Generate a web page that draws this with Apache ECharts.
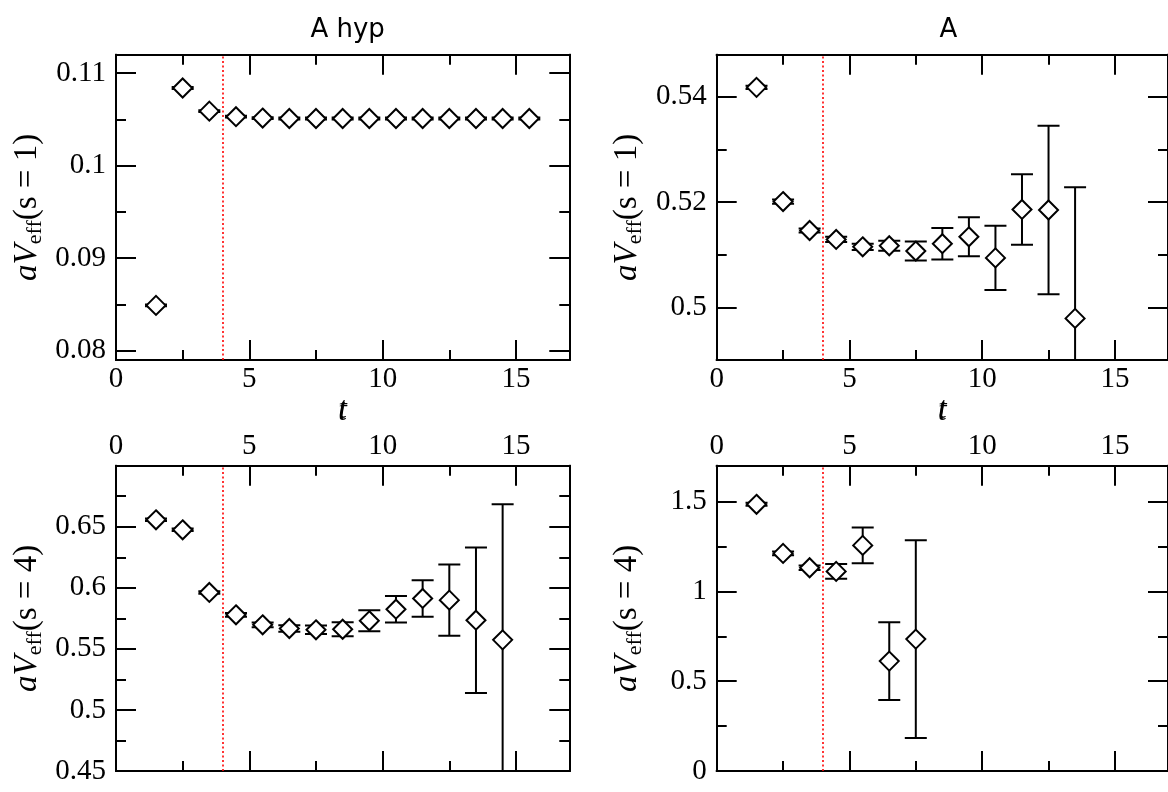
<!DOCTYPE html>
<html>
<head>
<meta charset="utf-8">
<script src="https://cdn.jsdelivr.net/npm/echarts@6/dist/echarts.min.js"></script>
<style>
html,body{margin:0;padding:0;background:#fff;}
#chart{width:1168px;height:792px;}
</style>
</head>
<body>
<div id="chart"></div>
<script>
// ---------------- data ----------------
const panelTitles = ['A hyp', 'A'];
const fitStart = 4;

const tS1Hyp = [1.5, 2.5, 3.5, 4.5, 5.5, 6.5, 7.5, 8.5, 9.5, 10.5, 11.5, 12.5, 13.5, 14.5, 15.5];
const vS1Hyp = [0.0849, 0.1084, 0.1059, 0.1053, 0.10515, 0.1051, 0.1051, 0.1051, 0.1051, 0.1051, 0.1051, 0.1051, 0.1051, 0.1051, 0.1051];
const eS1Hyp = [0.0001, 0.0001, 0.0001, 0.0001, 0.0001, 0.0001, 0.0001, 0.0001, 0.0001, 0.0001, 0.0001, 0.0001, 0.0001, 0.0001, 0.0001];

const tS1A = [1.5, 2.5, 3.5, 4.5, 5.5, 6.5, 7.5, 8.5, 9.5, 10.5, 11.5, 12.5, 13.5];
const vS1A = [0.5418, 0.5201, 0.5146, 0.5129, 0.5115, 0.5117, 0.5107, 0.5121, 0.5134, 0.5094, 0.5186, 0.5185, 0.4979];
const eS1A = [0.0003, 0.0004, 0.0004, 0.0005, 0.0006, 0.00095, 0.0018, 0.0030, 0.0037, 0.0061, 0.0067, 0.0160, 0.0249];

const tS4Hyp = [1.5, 2.5, 3.5, 4.5, 5.5, 6.5, 7.5, 8.5, 9.5, 10.5, 11.5, 12.5, 13.5, 14.5];
const vS4Hyp = [0.6557, 0.6475, 0.5962, 0.5779, 0.5697, 0.5667, 0.5656, 0.5661, 0.5730, 0.5825, 0.5913, 0.5899, 0.5735, 0.5574];
const eS4Hyp = [0.001, 0.001, 0.001, 0.0015, 0.002, 0.0027, 0.0035, 0.0058, 0.0086, 0.0108, 0.015, 0.0292, 0.0596, 0.111];

const tS4A = [1.5, 2.5, 3.5, 4.5, 5.5, 6.5, 7.5];
const vS4A = [1.485, 1.2116, 1.1318, 1.1114, 1.2562, 0.612, 0.7345];
const eS4A = [0.008, 0.010, 0.012, 0.041, 0.100, 0.216, 0.551];

// axis ranges & ticks
const xRange = [0, 17];
const xMajor = [0, 5, 10, 15];
const xMinor = [2.5, 7.5, 12.5];

const yRangeS1Hyp = [0.079, 0.112];
const yMajorS1Hyp = [0.08, 0.09, 0.1, 0.11];
const yMinorS1Hyp = [0.085, 0.095, 0.105];

const yRangeS1A = [0.49, 0.548];
const yMajorS1A = [0.5, 0.52, 0.54];
const yMinorS1A = [0.49, 0.51, 0.53];

const yRangeS4Hyp = [0.45, 0.70];
const yMajorS4Hyp = [0.45, 0.5, 0.55, 0.6, 0.65];
const yMinorS4Hyp = [0.475, 0.525, 0.575, 0.625, 0.675];

const yRangeS4A = [0, 1.7];
const yMajorS4A = [0, 0.5, 1, 1.5];
const yMinorS4A = [0.25, 0.75, 1.25];

// ---------------- layout ----------------
const grids = [
  {left: 116, top: 54.7, width: 453.3, height: 305.3},
  {left: 716.7, top: 54.7, width: 453.3, height: 305.3},
  {left: 116, top: 465.7, width: 453.3, height: 305.3},
  {left: 716.7, top: 465.7, width: 453.3, height: 305.3}
];

const BLACK = '#000';
const serif = 'Liberation Serif';
const lineStyle = {color: BLACK, width: 2};

function xAxes(gi, labelPos) {
  const other = labelPos === 'bottom' ? 'top' : 'bottom';
  const base = {gridIndex: gi, type: 'value', min: xRange[0], max: xRange[1],
    splitLine: {show: false}, axisLine: {show: true, onZero: false, lineStyle: lineStyle}};
  return [
    Object.assign({}, base, {position: labelPos,
      axisTick: {show: true, inside: true, length: 20, customValues: xMajor, lineStyle: lineStyle},
      axisLabel: {show: true, customValues: xMajor, margin: 5, color: BLACK, fontFamily: serif, fontSize: 29},
      name: 't', nameLocation: 'middle', nameGap: labelPos === 'bottom' ? 36 : 40,
      nameTextStyle: {fontFamily: serif, fontStyle: 'italic', fontSize: 31, color: BLACK}}),
    Object.assign({}, base, {position: other,
      axisTick: {show: true, inside: true, length: 20, customValues: xMajor, lineStyle: lineStyle},
      axisLabel: {show: false}}),
    Object.assign({}, base, {position: labelPos,
      axisTick: {show: true, inside: true, length: 10, customValues: xMinor, lineStyle: lineStyle},
      axisLabel: {show: false}}),
    Object.assign({}, base, {position: other,
      axisTick: {show: true, inside: true, length: 10, customValues: xMinor, lineStyle: lineStyle},
      axisLabel: {show: false}})
  ];
}

function yAxes(gi, range, majors, minors, sValue) {
  const base = {gridIndex: gi, type: 'value', min: range[0], max: range[1],
    splitLine: {show: false}, axisLine: {show: true, onZero: false, lineStyle: lineStyle}};
  return [
    Object.assign({}, base, {position: 'left',
      axisTick: {show: true, inside: true, length: 20, customValues: majors, lineStyle: lineStyle},
      axisLabel: {show: true, customValues: majors, margin: 10, color: BLACK, fontFamily: serif, fontSize: 29},
      name: '{i|aV}{sub|eff}{n|(s = ' + sValue + ')}',
      nameLocation: 'middle', nameGap: 70,
      nameTextStyle: {
        color: BLACK,
        rich: {
          i: {fontFamily: serif, fontStyle: 'italic', fontSize: 33, color: BLACK, lineHeight: 38, verticalAlign: 'middle'},
          sub: {fontFamily: serif, fontSize: 22, color: BLACK, lineHeight: 24, verticalAlign: 'bottom'},
          n: {fontFamily: serif, fontSize: 33, color: BLACK, lineHeight: 38, verticalAlign: 'middle'}
        }
      }}),
    Object.assign({}, base, {position: 'right',
      axisTick: {show: true, inside: true, length: 20, customValues: majors, lineStyle: lineStyle},
      axisLabel: {show: false}}),
    Object.assign({}, base, {position: 'left',
      axisTick: {show: true, inside: true, length: 10, customValues: minors, lineStyle: lineStyle},
      axisLabel: {show: false}}),
    Object.assign({}, base, {position: 'right',
      axisTick: {show: true, inside: true, length: 10, customValues: minors, lineStyle: lineStyle},
      axisLabel: {show: false}})
  ];
}

function errRender(params, api) {
  const x = api.value(0), y = api.value(1), e = api.value(2);
  const top = api.coord([x, y + e]);
  const bot = api.coord([x, y - e]);
  const hw = 11;
  const st = {stroke: BLACK, lineWidth: 2, fill: null};
  return {type: 'group', children: [
    {type: 'line', shape: {x1: top[0], y1: top[1], x2: bot[0], y2: bot[1]}, style: st},
    {type: 'line', shape: {x1: top[0] - hw, y1: top[1], x2: top[0] + hw, y2: top[1]}, style: st},
    {type: 'line', shape: {x1: bot[0] - hw, y1: bot[1], x2: bot[0] + hw, y2: bot[1]}, style: st}
  ]};
}

function panelSeries(gi, ts, vs, es) {
  const pts = ts.map((t, i) => [t, vs[i]]);
  const errs = ts.map((t, i) => [t, vs[i], es[i]]);
  return [
    {type: 'custom', xAxisIndex: gi * 4, yAxisIndex: gi * 4, clip: true, silent: true,
     renderItem: errRender, data: errs, encode: {x: 0, y: 1}, z: 3},
    {type: 'scatter', xAxisIndex: gi * 4, yAxisIndex: gi * 4, silent: true,
     symbol: 'diamond', symbolSize: [19, 19], z: 5,
     itemStyle: {color: '#fff', borderColor: BLACK, borderWidth: 2, opacity: 1},
     emphasis: {disabled: true},
     data: pts,
     markLine: {silent: true, symbol: ['none', 'none'], label: {show: false},
       lineStyle: {color: '#ff0000', type: [2, 2.5], width: 1.6},
       emphasis: {disabled: true},
       data: [{xAxis: fitStart}]}}
  ];
}

const titleStyle = {fontFamily: 'DejaVu Sans', fontWeight: 'normal', fontSize: 26, color: BLACK};
const option = {
  animation: false,
  backgroundColor: '#fff',
  title: [
    {text: panelTitles[0], left: 116 + 453.3 / 2, top: 12, textAlign: 'center', textStyle: titleStyle},
    {text: panelTitles[1], left: 716.7 + 453.3 / 2, top: 12, textAlign: 'center', textStyle: titleStyle}
  ],
  grid: grids,
  xAxis: [].concat(xAxes(0, 'bottom'), xAxes(1, 'bottom'), xAxes(2, 'top'), xAxes(3, 'top')),
  yAxis: [].concat(
    yAxes(0, yRangeS1Hyp, yMajorS1Hyp, yMinorS1Hyp, 1),
    yAxes(1, yRangeS1A, yMajorS1A, yMinorS1A, 1),
    yAxes(2, yRangeS4Hyp, yMajorS4Hyp, yMinorS4Hyp, 4),
    yAxes(3, yRangeS4A, yMajorS4A, yMinorS4A, 4)
  ),
  series: [].concat(
    panelSeries(0, tS1Hyp, vS1Hyp, eS1Hyp),
    panelSeries(1, tS1A, vS1A, eS1A),
    panelSeries(2, tS4Hyp, vS4Hyp, eS4Hyp),
    panelSeries(3, tS4A, vS4A, eS4A)
  )
};

const chart = echarts.init(document.getElementById('chart'), null, {renderer: 'canvas'});
chart.setOption(option);
</script>
</body>
</html>
